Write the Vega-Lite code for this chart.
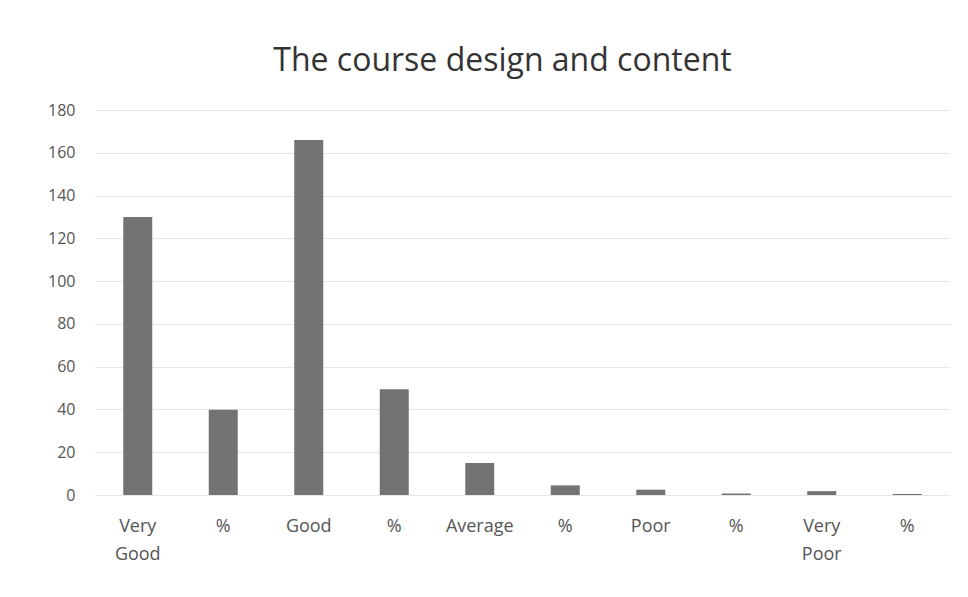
{
  "$schema": "https://vega.github.io/schema/vega-lite/v6.json",
  "width": 855,
  "height": 385,
  "autosize": {"type": "none"},
  "padding": {"left": 95, "top": 110, "right": 18, "bottom": 102},
  "background": "#ffffff",
  "title": {
    "text": "The course design and content",
    "fontSize": 32,
    "font": "Open Sans",
    "fontWeight": "normal",
    "color": "#333333",
    "anchor": "middle",
    "dx": -20,
    "offset": 24
  },
  "data": {
    "values": [
      {"category": "Very Good", "value": 130},
      {"category": "Very Good %", "value": 39.8},
      {"category": "Good", "value": 166},
      {"category": "Good %", "value": 49.5},
      {"category": "Average", "value": 15},
      {"category": "Average %", "value": 4.5},
      {"category": "Poor", "value": 2.5},
      {"category": "Poor %", "value": 0.7},
      {"category": "Very Poor", "value": 1.8},
      {"category": "Very Poor %", "value": 0.5}
    ]
  },
  "mark": {"type": "bar", "color": "#737373", "size": 29},
  "encoding": {
    "x": {
      "field": "category",
      "type": "nominal",
      "sort": null,
      "scale": {"paddingInner": 0.6, "paddingOuter": 0.3},
      "axis": {
        "title": null,
        "labelAngle": 0,
        "domain": false,
        "ticks": false,
        "labelPadding": 22,
        "labelFontSize": 18,
        "labelFont": "Open Sans",
        "labelColor": "#555555",
        "labelLineHeight": 28,
        "labelExpr": "indexof(datum.value, '%') >= 0 ? '%' : (datum.value == 'Very Good' ? ['Very', 'Good'] : (datum.value == 'Very Poor' ? ['Very', 'Poor'] : datum.value))"
      }
    },
    "y": {
      "field": "value",
      "type": "quantitative",
      "scale": {"domain": [0, 180]},
      "axis": {
        "title": null,
        "values": [0, 20, 40, 60, 80, 100, 120, 140, 160, 180],
        "domain": false,
        "ticks": false,
        "labelPadding": 20,
        "labelFontSize": 16,
        "labelFont": "Open Sans",
        "labelColor": "#555555",
        "gridColor": "#e6e6e6",
        "gridWidth": 1.2
      }
    }
  },
  "config": {"view": {"stroke": null}}
}
